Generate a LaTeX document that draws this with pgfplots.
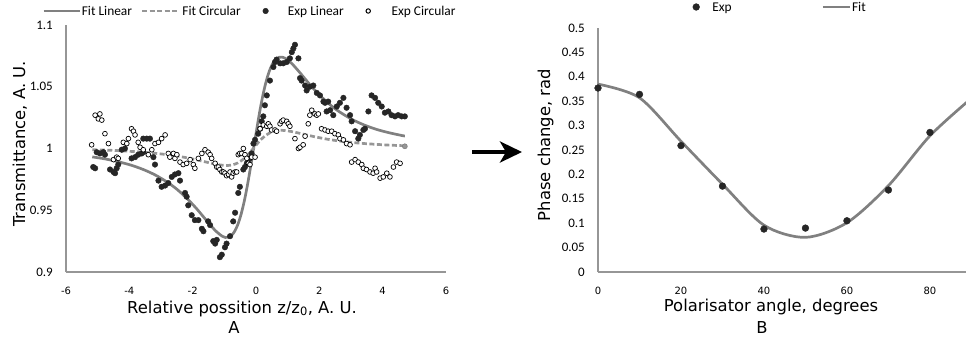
\documentclass[border=0pt]{standalone}
\usepackage{pgfplots}
\pgfplotsset{compat=1.18}
\usepackage{fontspec}
\setmainfont{DejaVu Sans}
\newfontfamily\calfont{Carlito}
\usetikzlibrary{arrows.meta}
\definecolor{fitgray}{RGB}{128,128,128}
\definecolor{dashgray}{RGB}{150,150,150}
\definecolor{axgray}{RGB}{150,150,150}
\definecolor{dotc}{RGB}{38,38,38}
\pgfplotsset{
  myaxis/.style={
    scale only axis, anchor=south west,
    axis x line*=bottom, axis y line*=left,
    axis line style={draw=axgray, line width=1.5pt, -},
    tick style={draw=none},
    xticklabel style={font=\fontsize{10}{12}\selectfont, inner sep=0pt, anchor=north, yshift=-15pt},
    yticklabel style={font=\calfont\fontsize{13}{15}\selectfont, inner sep=0pt, anchor=east, xshift=-13pt},
    legend style={draw=none, fill=none, inner sep=0pt, nodes={inner sep=0pt, text depth=0pt, draw=red, draw opacity=0, line width=0.3pt},
      cells={anchor=west}, column sep=0pt, font=\calfont\fontsize{13.4}{16}\selectfont},
    legend columns=-1,
  },
  limgA/.style={legend image code/.code={\path[draw=blue,draw opacity=0,line width=0.3pt,fill=none] (0pt,-6pt) rectangle (38pt,6pt); \draw[fitgray, line width=2.7pt] (0pt,0pt) -- (36pt,0pt);}},
  limgB/.style={legend image code/.code={\path[draw=blue,draw opacity=0,line width=0.3pt,fill=none] (0pt,-6pt) rectangle (49.8pt,6pt); \draw[dashgray, line width=2.7pt, dash pattern=on 5pt off 2.5pt] (9.8pt,0pt) -- (46.8pt,0pt);}},
  limgC/.style={legend image code/.code={\path[draw=blue,draw opacity=0,line width=0.3pt,fill=none] (0pt,-6pt) rectangle (46.5pt,6pt); \draw[draw=none] plot[only marks, mark=*, mark size=2.8pt, mark options={fill=dotc, draw=dotc}] coordinates {(24.5pt,0pt)};}},
  limgD/.style={legend image code/.code={\path[draw=blue,draw opacity=0,line width=0.3pt,fill=none] (0pt,-6pt) rectangle (47.1pt,6pt); \draw[draw=none] plot[only marks, mark=*, mark size=2.2pt, mark options={fill=white, draw=black, line width=1pt}] coordinates {(24.1pt,0pt)};}},
  limgE/.style={legend image code/.code={\path[draw=none,fill=none] (0pt,-1pt) rectangle (26pt,1pt); \draw[draw=none] plot[only marks, mark=*, mark size=3.4pt, mark options={fill=dotc, draw=dotc}] coordinates {(10pt,0pt)};}},
  limgF/.style={legend image code/.code={\path[draw=none,fill=none] (0pt,-1pt) rectangle (120pt,1pt); \draw[fitgray, line width=2.7pt] (91pt,0pt) -- (118pt,0pt);}},
}
\begin{document}
\begin{tikzpicture}
\path[use as bounding box] (0pt,0pt) rectangle (966pt,341pt);
% ---------------- Chart A ----------------
\begin{axis}[myaxis,
  at={(66pt,69pt)}, width=380pt, height=247pt,
  xmin=-6, xmax=6, ymin=0.9, ymax=1.1,
  xtick={-6,-4,-2,0,2,4,6}, xticklabels={-6,-4,-2,0,2,4,6},
  ytick={0.9,0.95,1,1.05,1.1}, yticklabels={0.9,0.95,1,1.05,1.1},
  legend style={at={(-0.0632,1.0567)}, anchor=west},
]
\addplot[fitgray, line width=2.7pt, smooth, limgA]
coordinates {(-5.17,0.9932)(-4.77,0.9916)(-4.37,0.9894)(-3.97,0.9867)(-3.57,0.9831)(-3.17,0.9784)(-2.77,0.9722)(-2.47,0.9664)(-2.17,0.9593)(-1.87,0.9511)(-1.67,0.9450)(-1.47,0.9389)(-1.27,0.9332)(-1.07,0.9290)(-0.97,0.9280)(-0.87,0.9281)(-0.77,0.9297)(-0.67,0.9331)(-0.57,0.9387)(-0.47,0.9468)(-0.37,0.9574)(-0.27,0.9704)(-0.17,0.9852)(-0.07,1.001)(0.03,1.0168)(0.13,1.0316)(0.23,1.0446)(0.33,1.0552)(0.43,1.0633)(0.53,1.0689)(0.63,1.0723)(0.73,1.0739)(0.83,1.0740)(0.93,1.073)(1.13,1.0688)(1.33,1.0631)(1.53,1.057)(1.73,1.0509)(2.03,1.0427)(2.33,1.0356)(2.63,1.0298)(3.03,1.0236)(3.43,1.0189)(3.83,1.0153)(4.23,1.0126)(4.63,1.0104)(4.70,1.0101)};
\addlegendentry{Fit Linear}
\addplot[dashgray, line width=2.7pt, smooth, dash pattern=on 5pt off 2.5pt, limgB]
coordinates {(-5.17,0.9990)(-4.77,0.9987)(-4.37,0.9983)(-3.97,0.9977)(-3.57,0.9970)(-3.17,0.9961)(-2.77,0.9949)(-2.47,0.9938)(-2.17,0.9924)(-1.87,0.9908)(-1.67,0.9896)(-1.47,0.9884)(-1.27,0.9873)(-1.07,0.9865)(-0.97,0.9863)(-0.87,0.9863)(-0.77,0.9866)(-0.67,0.9873)(-0.57,0.9884)(-0.47,0.9900)(-0.37,0.9920)(-0.27,0.9945)(-0.17,0.9974)(-0.07,1.0005)(0.03,1.0036)(0.13,1.0065)(0.23,1.0090)(0.33,1.0110)(0.43,1.0126)(0.53,1.0137)(0.63,1.0144)(0.73,1.0147)(0.83,1.0147)(0.93,1.0145)(1.13,1.0137)(1.33,1.0126)(1.53,1.0114)(1.73,1.0102)(2.03,1.0086)(2.33,1.0072)(2.63,1.0061)(3.03,1.0049)(3.43,1.0040)(3.83,1.0033)(4.23,1.0027)(4.63,1.0023)(4.70,1.0022)};
\addlegendentry{Fit Circular}
\addplot[only marks, mark=*, mark size=2.8pt, mark options={fill=dotc, draw=dotc}, limgC]
coordinates {(-5.14,0.985)(-5.08,0.984)(-5.03,0.997)(-4.93,0.996)(-4.82,0.997)(-4.77,0.995)(-4.61,0.983)(-4.50,0.981)(-4.45,0.980)(-4.40,0.984)(-4.35,0.987)(-4.24,0.999)(-4.14,1.000)(-3.93,0.992)(-3.82,0.993)(-3.72,0.995)(-3.61,0.996)(-3.56,0.997)(-3.56,1.008)(-3.45,1.008)(-3.35,1.008)(-3.24,0.993)(-3.19,0.987)(-3.08,0.974)(-2.98,0.969)(-2.87,0.970)(-2.77,0.972)(-2.66,0.977)(-2.56,0.979)(-2.45,0.980)(-2.40,0.974)(-2.24,0.964)(-2.19,0.961)(-2.14,0.954)(-2.03,0.946)(-1.93,0.942)(-1.82,0.942)(-1.71,0.935)(-1.66,0.933)(-1.51,0.941)(-1.45,0.938)(-1.35,0.925)(-1.29,0.923)(-1.24,0.926)(-1.14,0.912)(-1.08,0.914)(-0.98,0.920)(-0.93,0.923)(-0.82,0.929)(-0.72,0.941)(-0.66,0.948)(-0.56,0.964)(-0.51,0.969)(-0.40,0.983)(-0.35,0.985)(-0.29,0.988)(-0.19,0.992)(-0.14,0.996)(-0.08,1.004)(-0.03,1.007)(0.07,1.012)(0.13,1.016)(0.18,1.022)(0.23,1.026)(0.28,1.035)(0.34,1.043)(0.44,1.055)(0.55,1.066)(0.60,1.070)(0.65,1.072)(0.76,1.069)(0.86,1.069)(0.97,1.070)(1.07,1.073)(1.13,1.078)(1.18,1.081)(1.23,1.084)(1.34,1.073)(1.39,1.057)(1.44,1.055)(1.55,1.051)(1.60,1.047)(1.70,1.050)(1.81,1.051)(1.92,1.045)(2.02,1.043)(2.13,1.038)(2.18,1.037)(2.23,1.030)(2.28,1.038)(2.34,1.031)(2.44,1.027)(2.55,1.034)(2.65,1.037)(2.76,1.041)(2.86,1.033)(2.97,1.027)(3.02,1.022)(3.13,1.014)(3.23,1.008)(3.28,1.011)(3.39,1.015)(3.44,1.016)(3.55,1.030)(3.65,1.043)(3.76,1.041)(3.86,1.037)(3.97,1.034)(4.07,1.029)(4.18,1.030)(4.28,1.027)(4.39,1.026)(4.49,1.027)(4.60,1.026)(4.70,1.026)};
\addlegendentry{Exp Linear}
\addplot[only marks, mark=*, mark size=2.4pt, mark options={fill=white, draw=black, line width=0.7pt}, limgD]
coordinates {(-5.19,1.003)(-5.08,1.027)(-4.98,1.024)(-4.93,1.028)(-4.87,1.023)(-4.77,1.012)(-4.66,1.004)(-4.50,0.991)(-4.40,0.993)(-4.35,0.992)(-4.19,1.005)(-4.08,1.004)(-4.03,1.008)(-3.93,1.016)(-3.87,1.014)(-3.82,1.011)(-3.72,1.005)(-3.66,1.001)(-3.56,0.999)(-3.40,0.995)(-3.29,0.999)(-3.19,1.004)(-3.08,1.005)(-2.98,1.008)(-2.87,1.011)(-2.77,0.996)(-2.72,0.993)(-2.61,0.996)(-2.56,0.992)(-2.50,0.995)(-2.40,0.989)(-2.30,0.987)(-2.19,0.988)(-2.08,0.991)(-1.98,0.987)(-1.93,0.984)(-1.82,0.992)(-1.71,0.996)(-1.61,0.999)(-1.51,0.997)(-1.45,0.995)(-1.40,0.992)(-1.29,0.988)(-1.24,0.985)(-1.19,0.985)(-1.14,0.983)(-1.08,0.981)(-1.03,0.981)(-0.98,0.980)(-0.93,0.978)(-0.87,0.979)(-0.82,0.981)(-0.77,0.977)(-0.72,0.980)(-0.66,0.981)(-0.61,0.981)(-0.56,0.995)(-0.51,0.996)(-0.45,0.996)(-0.40,1.000)(-0.35,0.995)(-0.29,0.992)(-0.24,0.988)(-0.19,0.987)(-0.14,0.993)(-0.03,0.993)(0.13,1.016)(0.23,1.019)(0.34,1.018)(0.39,1.020)(0.44,1.018)(0.49,1.015)(0.60,1.015)(0.65,1.014)(0.76,1.020)(0.81,1.022)(0.86,1.023)(0.97,1.022)(1.02,1.020)(1.07,1.018)(1.23,1.008)(1.34,1.000)(1.39,1.001)(1.49,1.003)(1.55,1.010)(1.65,1.020)(1.70,1.027)(1.76,1.031)(1.86,1.028)(1.92,1.027)(1.97,1.028)(2.07,1.016)(2.18,1.015)(2.28,1.014)(2.39,1.014)(2.49,1.012)(2.60,1.011)(2.65,1.008)(2.76,1.007)(2.86,1.004)(2.97,1.003)(3.02,0.989)(3.13,0.991)(3.23,0.989)(3.34,0.987)(3.39,0.984)(3.49,0.983)(3.60,0.981)(3.70,0.980)(3.76,0.984)(3.81,0.981)(3.92,0.976)(4.02,0.977)(4.13,0.980)(4.23,0.977)(4.34,0.985)(4.44,0.989)(4.55,0.988)};
\addlegendentry{Exp Circular}
\addplot[forget plot, only marks, mark=*, mark size=2.5pt, mark options={fill=dashgray, draw=fitgray, line width=0.6pt}]
coordinates {(4.70,1.0018)};
\end{axis}
% ---------------- Chart B ----------------
\begin{axis}[myaxis,
  at={(598pt,69pt)}, width=368pt, height=244pt,
  xmin=0, xmax=88.7, ymin=0, ymax=0.5,
  xtick={0,20,40,60,80}, xticklabels={0,20,40,60,80},
  ytick={0,0.05,0.1,0.15,0.2,0.25,0.3,0.35,0.4,0.45,0.5},
  yticklabels={0,0.05,0.1,0.15,0.2,0.25,0.3,0.35,0.4,0.45,0.5},
  legend style={at={(0.2391,1.0861)}, anchor=west},
]
\addplot[only marks, mark=*, mark size=3.4pt, mark options={fill=dotc, draw=dotc}, limgE]
coordinates {(0,0.377)(10,0.364)(20,0.259)(30,0.176)(40,0.088)(50,0.090)(60,0.105)(70,0.168)(80,0.286)};
\addlegendentry{Exp}
\addplot[fitgray, line width=2.7pt, smooth, limgF]
coordinates {(0,0.385)(10,0.357)(20,0.268)(30,0.180)(40,0.096)(50,0.071)(60,0.101)(70,0.177)(80,0.279)(90,0.356)};
\addlegendentry{Fit}
\end{axis}
% ---------------- labels ----------------
\begin{scope}[every node/.style={font=\fontsize{16.4}{20}\selectfont, inner sep=0pt}]
\node[anchor=base] at (242pt,28pt) {Relative possition z/z\textsubscript{0}, A. U.};
\node[anchor=base] at (234pt,8pt) {A};
\node[anchor=base, rotate=90] at (25pt,197pt) {Transmittance, A. U.};
\node[anchor=base] at (771pt,30pt) {Polarisator angle, degrees};
\node[anchor=base] at (762pt,8pt) {B};
\node[anchor=base, rotate=90] at (550pt,196pt) {Phase change, rad};
\end{scope}
\draw[line width=4pt, -{Stealth[length=22pt, width=21pt, inset=6pt]}] (472pt,189pt) -- (522pt,189pt);
\end{tikzpicture}
\end{document}
